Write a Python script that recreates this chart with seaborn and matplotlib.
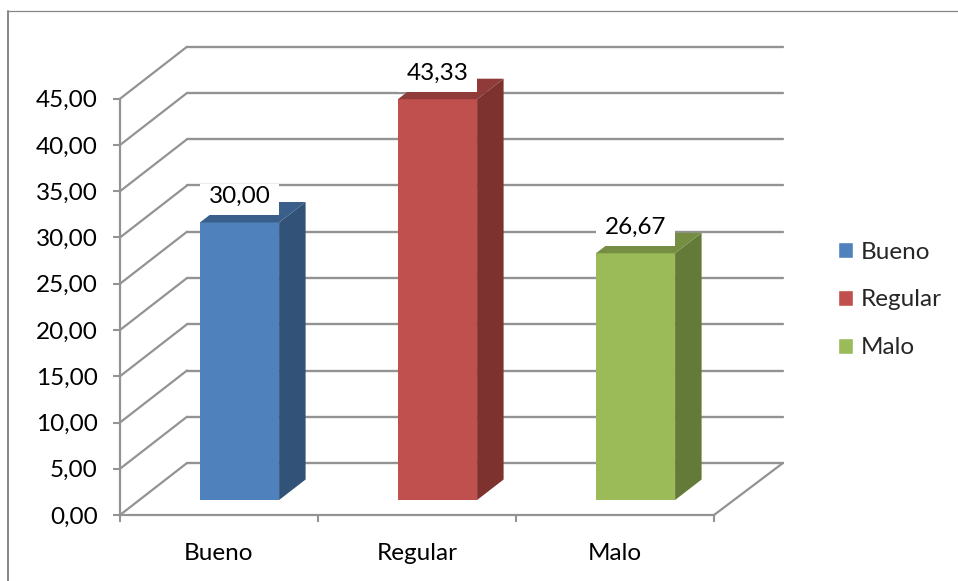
import matplotlib
matplotlib.use('Agg')
import matplotlib.pyplot as plt
from matplotlib.patches import Polygon, Rectangle
from matplotlib.transforms import Affine2D, IdentityTransform
import numpy as np
import pandas as pd
import seaborn as sns

categorias = ['Bueno', 'Regular', 'Malo']
valores = [30.00, 43.33, 26.67]
marcas_y = [0, 5, 10, 15, 20, 25, 30, 35, 40, 45]

color_frente = ['#4F81BD', '#C0504D', '#9BBB59']
color_lado = ['#325278', '#7E3230', '#647A39']
color_tapa = ['#3A5F8B', '#8E3B39', '#758E43']
gris = '#939393'
letra = 17.5

sns.set_theme(style='white')
plt.rcParams['font.family'] = ['Lato', 'DejaVu Sans']

W, H = 958, 581
fig = plt.figure(figsize=(W / 100, H / 100), dpi=100)
ax = fig.add_axes([120 / W, (H - 515) / H, 594 / W, 416.25 / H])

df = pd.DataFrame({'categoria': categorias, 'valor': valores})
sns.barplot(data=df, x='categoria', y='valor', hue='categoria', hue_order=categorias,
            palette=color_frente, saturation=1, width=0.4, dodge=False, legend=True,
            ax=ax, zorder=3)

ax.set_xlim(-0.5, 2.5)
ax.set_ylim(0, 45)
ax.set_xlabel('')
ax.set_ylabel('')
ax.patch.set_alpha(0)

# ejes
ax.set_yticks(marcas_y)
ax.set_yticklabels([f'{v:.2f}'.replace('.', ',') for v in marcas_y], fontsize=letra, color='black',
                   va='center_baseline')
ax.set_xticks(range(3))
ax.set_xticklabels(categorias, fontsize=letra, color='black')
ax.set_xticks([-0.5, 0.5, 1.5, 2.5], minor=True)
ax.tick_params(axis='y', left=True, length=5, width=1.5, color=gris, pad=11)
ax.tick_params(axis='x', which='major', bottom=False, pad=14)
ax.tick_params(axis='x', which='minor', bottom=True, length=5, width=1.5, color=gris)
for lado in ['top', 'right']:
    ax.spines[lado].set_visible(False)
for lado in ['left', 'bottom']:
    ax.spines[lado].set_color(gris)
    ax.spines[lado].set_linewidth(1.6)

# pared del fondo y diagonales
fondo = (67, 52)
tr_fondo = ax.transData + Affine2D().translate(*fondo)
for v in marcas_y:
    ax.plot([-0.5, 2.51], [v, v], color=gris, lw=1.7, transform=tr_fondo, clip_on=False, zorder=1)
    a = ax.transData.transform((-0.5, v))
    b = a + np.array(fondo)
    ax.plot([a[0], b[0]], [a[1], b[1]], color=gris, lw=1.6, transform=IdentityTransform(),
            clip_on=False, zorder=1)
a = ax.transData.transform((2.5, 0))
b = tr_fondo.transform((2.51, 0))
ax.plot([a[0], b[0]], [a[1], b[1]], color=gris, lw=1.6, transform=IdentityTransform(),
        clip_on=False, zorder=1)

# barras en 3d
base = (20.5, 15)
prof = np.array([26.5, 20.5])
tr_base = ax.transData + Affine2D().translate(*base)
barras = [b for c in ax.containers for b in c]
for i, barra in enumerate(barras):
    barra.set_transform(tr_base)
    barra.set_clip_on(False)
    barra.set_linewidth(0)
    x0, x1 = barra.get_x(), barra.get_x() + barra.get_width()
    h = barra.get_height()
    p00, p10, p01, p11 = tr_base.transform([(x0, 0), (x1, 0), (x0, h), (x1, h)])
    ax.add_patch(Polygon([p10, p11, p11 + prof, p10 + prof], fc=color_lado[i], lw=0,
                         transform=IdentityTransform(), clip_on=False, zorder=3))
    ax.add_patch(Polygon([p01, p11, p11 + prof, p01 + prof], fc=color_tapa[i], lw=0,
                         transform=IdentityTransform(), clip_on=False, zorder=3))
    # fondo blanco de la etiqueta
    ax.add_patch(Rectangle((x0, h), barra.get_width(), 3.45, fc='white', lw=0,
                           transform=ax.transData + Affine2D().translate(base[0], base[1] + 7),
                           clip_on=False, zorder=4))
    ax.annotate(f'{valores[i]:.2f}'.replace('.', ','), xy=(i, h), xytext=(base[0], base[1] + 26),
                textcoords='offset pixels', ha='center', va='center', fontsize=letra,
                color='black', zorder=5, annotation_clip=False)

# leyenda
ax.legend(loc='center left', bbox_to_anchor=(831 / W, (H - 300) / H), bbox_transform=fig.transFigure,
          frameon=False, fontsize=letra, handlelength=0.62, handleheight=0.62, handletextpad=0.3,
          labelspacing=1.1, borderaxespad=0, borderpad=0.3)

# borde del grafico
fig.add_artist(plt.Line2D([8 / W, 8 / W], [0, (H - 11) / H], color='#868686', lw=1.4))
fig.add_artist(plt.Line2D([8 / W, 1], [(H - 11) / H, (H - 11) / H], color='#868686', lw=0.9))

fig.savefig('out.png', dpi=100, facecolor='white')
